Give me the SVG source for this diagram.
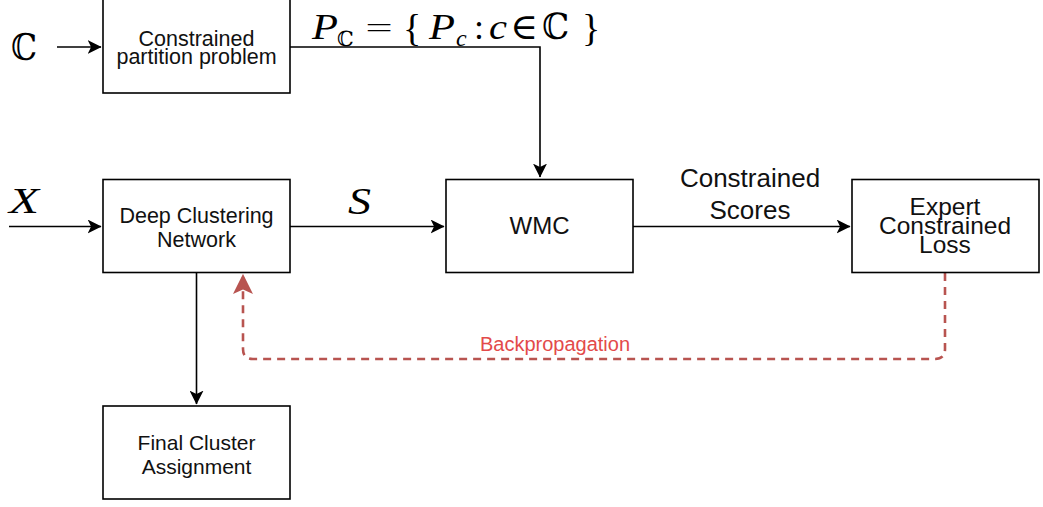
<svg xmlns="http://www.w3.org/2000/svg" width="1043" height="507" viewBox="0 0 1043 507">
  <style>
    .box { fill: #ffffff; stroke: #000000; stroke-width: 1.6; }
    .lbl { font-family: "Liberation Sans", Arial, sans-serif; fill: #111111; text-anchor: middle; }
    .math { font-family: "Liberation Serif", "Times New Roman", serif; font-style: italic; fill: #000000; }
    .mathr { font-family: "DejaVu Serif", "Liberation Serif", serif; fill: #000000; }
    .dbl { font-family: "DejaVu Sans", "DejaVu Serif", sans-serif; font-weight: 200; fill: #000000; }
    .edge { fill: none; stroke: #000000; stroke-width: 1.6; }
    .back { fill: none; stroke: #b85450; stroke-width: 2.6; stroke-dasharray: 8 6; }
  </style>
  <defs>
    <marker id="arr" markerUnits="userSpaceOnUse" markerWidth="14" markerHeight="14" viewBox="0 0 12 12" refX="11.5" refY="6" orient="auto">
      <path d="M0,0 L12,6 L0,12 L3,6 Z" fill="#000000"/>
    </marker>
    <marker id="arrRed" markerUnits="userSpaceOnUse" markerWidth="20" markerHeight="20" viewBox="0 0 18 18" refX="17" refY="9" orient="auto">
      <path d="M0,0 L18,9 L0,18 L4,9 Z" fill="#b85450"/>
    </marker>
  </defs>

  <g id="connectors">
    <path class="edge" d="M57,47 L101,47" marker-end="url(#arr)"/>
    <path class="edge" d="M290,47 L540,47 L540,177" marker-end="url(#arr)"/>
    <path class="edge" d="M9,226.5 L101,226.5" marker-end="url(#arr)"/>
    <path class="edge" d="M290,226.5 L444,226.5" marker-end="url(#arr)"/>
    <path class="edge" d="M633,226.5 L850,226.5" marker-end="url(#arr)"/>
    <path class="edge" d="M196.5,272 L196.5,404" marker-end="url(#arr)"/>
    <path class="back" d="M945,273 L945,349 Q945,359 935,359 L253,359 Q243,359 243,349 L243,275" marker-end="url(#arrRed)"/>
  </g>

  <g id="edge-labels">
    <text class="lbl" x="750" y="187" font-size="26">Constrained</text>
    <text class="lbl" x="750" y="219" font-size="26">Scores</text>
    <text class="lbl" x="555" y="351" font-size="20" style="fill:#e34a4a">Backpropagation</text>
  </g>

  <g id="math-labels">
    <text class="dbl" x="11" y="60" font-size="37" textLength="26" lengthAdjust="spacingAndGlyphs">ℂ</text>
    <text class="math" x="9" y="213" font-size="36" textLength="30" lengthAdjust="spacingAndGlyphs">X</text>
    <text class="math" x="348" y="214" font-size="38" textLength="23" lengthAdjust="spacingAndGlyphs">S</text>
    <g id="formula">
      <text class="math" x="312" y="39" font-size="36" textLength="26" lengthAdjust="spacingAndGlyphs">P</text>
      <text class="dbl" x="337" y="46" font-size="21">ℂ</text>
      <text class="mathr" x="364" y="39" font-size="36" style="font-family:'DejaVu Sans',sans-serif;font-weight:200">=</text>
      <text class="mathr" x="403" y="41" font-size="38" style="font-family:'Liberation Serif',serif">{</text>
      <text class="math" x="429" y="39" font-size="36" textLength="26" lengthAdjust="spacingAndGlyphs">P</text>
      <text class="math" x="456" y="46" font-size="24">c</text>
      <text class="mathr" x="474" y="39" font-size="36" style="font-family:'Liberation Serif',serif">:</text>
      <text class="math" x="489" y="39" font-size="36" textLength="18" lengthAdjust="spacingAndGlyphs">c</text>
      <text class="dbl" x="510" y="39" font-size="36" textLength="28" lengthAdjust="spacingAndGlyphs">∈</text>
      <text class="dbl" x="542" y="39" font-size="36" textLength="27" lengthAdjust="spacingAndGlyphs">ℂ</text>
      <text class="mathr" x="582" y="41" font-size="38" style="font-family:'Liberation Serif',serif">}</text>
    </g>
  </g>

  <g id="node-partition">
    <rect class="box" x="103" y="-1" width="187" height="94"/>
    <text class="lbl" x="196.5" y="45.5" font-size="21.5">Constrained</text>
    <text class="lbl" x="196.5" y="63.5" font-size="21.5">partition problem</text>
  </g>

  <g id="node-deep">
    <rect class="box" x="103" y="179.5" width="187" height="93"/>
    <text class="lbl" x="196.5" y="223" font-size="21.5">Deep Clustering</text>
    <text class="lbl" x="196.5" y="247" font-size="21.5">Network</text>
  </g>

  <g id="node-wmc">
    <rect class="box" x="446" y="179.5" width="187" height="93"/>
    <text class="lbl" x="539.5" y="234" font-size="24">WMC</text>
  </g>

  <g id="node-loss">
    <rect class="box" x="852" y="179.5" width="187" height="93"/>
    <text class="lbl" x="945" y="215" font-size="24.5">Expert</text>
    <text class="lbl" x="945" y="234" font-size="24.5">Constrained</text>
    <text class="lbl" x="945" y="253" font-size="24.5">Loss</text>
  </g>

  <g id="node-final">
    <rect class="box" x="103" y="406" width="187" height="93"/>
    <text class="lbl" x="196.5" y="450" font-size="21">Final Cluster</text>
    <text class="lbl" x="196.5" y="474" font-size="21">Assignment</text>
  </g>
</svg>
